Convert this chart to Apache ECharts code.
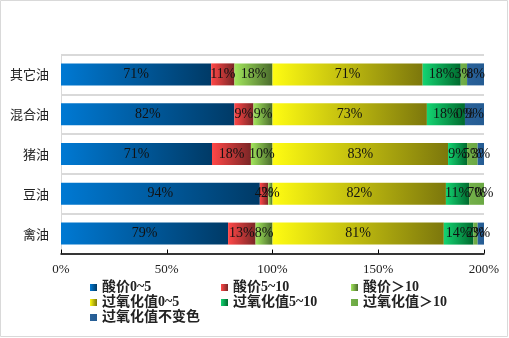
<!DOCTYPE html>
<html>
<head>
<meta charset="utf-8">
<script src="https://cdn.jsdelivr.net/npm/echarts@6/dist/echarts.min.js"></script>
<style>
html,body{margin:0;padding:0;background:#fff;}
#chart{width:509px;height:338px;}
</style>
</head>
<body>
<div id="chart"></div>
<script>
// categories bottom-to-top
const categories = ['禽油', '豆油', '猪油', '混合油', '其它油'];
const seriesNames = ['酸价0~5', '酸价5~10', '酸价＞10', '过氧化值0~5', '过氧化值5~10', '过氧化值＞10', '过氧化值不变色'];
const acid0_5 = [79, 94, 71.4, 82, 71];
const acid5_10 = [13, 4, 18.4, 9, 11];
const acidOver10 = [8, 2, 10.2, 9, 18];
const perox0_5 = [81, 82, 83, 73, 71];
const perox5_10 = [14, 11, 9, 18, 18];
const peroxOver10 = [2, 7, 5, 0, 3];
const peroxNoChange = [3, 0, 3, 9, 8];
const xTicks = [0, 50, 100, 150, 200];

const seriesData = [acid0_5, acid5_10, acidOver10, perox0_5, perox5_10, peroxOver10, peroxNoChange];
const gradStops = [
  ['#0079d3', '#003a66'],
  ['#ff4747', '#7a2626'],
  ['#a2e65c', '#4a6b2c'],
  ['#fffc12', '#7c770c'],
  ['#14d472', '#006a2e'],
  ['#74b04a', '#6aa843'],
  ['#2a629a', '#245b92']
];
function grad(i) {
  return new echarts.graphic.LinearGradient(0, 0, 1, 0, [
    { offset: 0, color: gradStops[i][0] },
    { offset: 1, color: gradStops[i][1] }
  ]);
}

const chart = echarts.init(document.getElementById('chart'), null, { renderer: 'canvas' });

const legendFont = { fontSize: 14, fontWeight: 'bold', color: '#222', fontFamily: "'Liberation Serif', 'Noto Sans CJK SC', serif", lineHeight: 15 };
function mkLegend(names, left) {
  return {
    data: names,
    orient: 'vertical',
    left: left,
    top: 280,
    itemWidth: 7,
    itemHeight: 7,
    itemGap: 0,
    icon: 'rect',
    padding: 0,
    selectedMode: false,
    textStyle: legendFont
  };
}

chart.setOption({
  animation: false,
  graphic: [{
    type: 'rect',
    shape: { x: 0.5, y: 0.5, width: 507, height: 336 },
    style: { fill: 'none', stroke: '#d9d9d9', lineWidth: 1 },
    silent: true
  }],
  legend: [
    mkLegend([seriesNames[0], seriesNames[3], seriesNames[6]], 90),
    mkLegend([seriesNames[1], seriesNames[4]], 221),
    mkLegend([seriesNames[2], seriesNames[5]], 351)
  ],
  grid: { left: 61, right: 25, top: 54.5, bottom: 84.5, containLabel: false },
  xAxis: {
    type: 'value',
    min: 0,
    max: 200,
    interval: 50,
    axisLine: { show: true, lineStyle: { color: '#000', width: 1.5 } },
    axisTick: { show: true, inside: true, length: 4, lineStyle: { color: '#000', width: 1 } },
    splitLine: { show: false },
    axisLabel: {
      margin: 10,
      formatter: v => xTicks.indexOf(v) >= 0 ? v + '%' : '',
      color: '#222',
      fontSize: 13,
      fontFamily: "'Liberation Serif', serif"
    }
  },
  yAxis: {
    type: 'category',
    data: categories,
    axisLine: { show: true, lineStyle: { color: '#d9d9d9', width: 1 } },
    axisTick: { show: false },
    splitLine: { show: true, lineStyle: { color: '#d9d9d9', width: 2 } },
    axisLabel: {
      margin: 12,
      color: '#222',
      fontSize: 13,
      fontFamily: "'Noto Sans CJK SC', serif"
    }
  },
  series: seriesNames.map((name, i) => ({
    name: name,
    type: 'bar',
    stack: 'total',
    barWidth: 22,
    data: seriesData[i],
    itemStyle: { color: grad(i) },
    label: {
      show: true,
      position: 'inside',
      formatter: p => Math.round(p.value) + '%',
      color: '#111',
      fontSize: 14,
      fontFamily: "'Liberation Serif', serif"
    }
  }))
});
</script>
</body>
</html>
